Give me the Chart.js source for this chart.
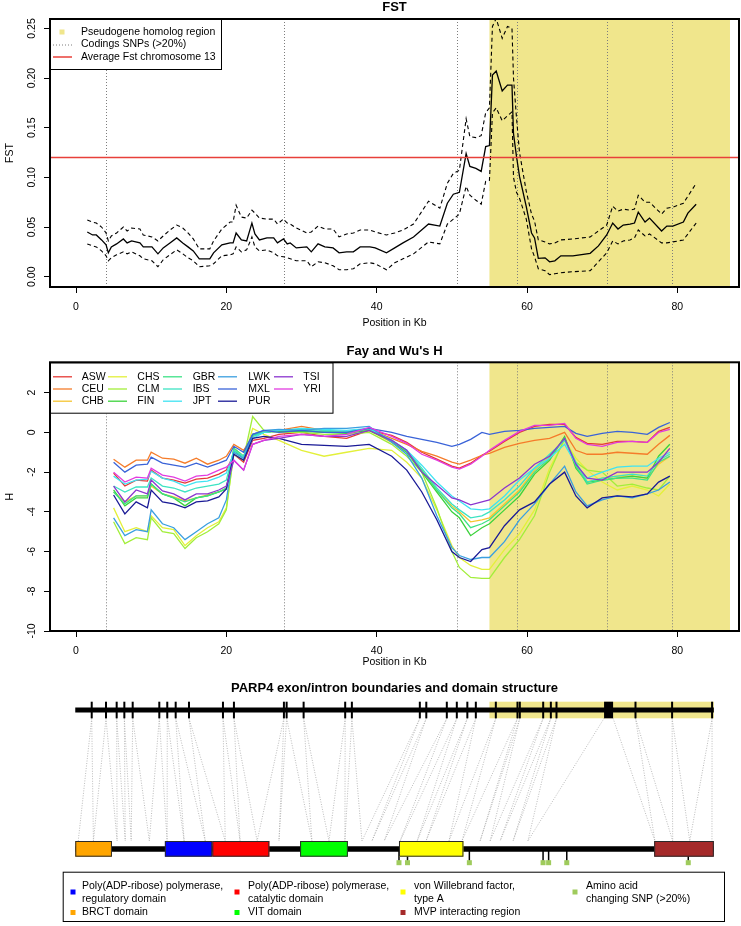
<!DOCTYPE html>
<html>
<head>
<meta charset="utf-8">
<script src="https://cdn.jsdelivr.net/npm/chart.js@4.4.1/dist/chart.umd.min.js"></script>
<style>
  html, body { margin: 0; padding: 0; background: #fff; }
  #wrap { position: relative; width: 741px; height: 926px; }
  canvas { position: absolute; left: 0; }
</style>
</head>
<body>
<div id="wrap">
  <canvas id="fst" width="741" height="330" style="top:0px"></canvas>
  <canvas id="fayWu" width="741" height="340" style="top:330px"></canvas>
  <canvas id="parp4" width="741" height="256" style="top:670px"></canvas>
</div>
<script>
// ---- shared axis ----
const X_MIN = -3.46, X_MAX = 88.2;
const xTicks = [0, 20, 40, 60, 80];
const fstTicks = [0, 0.05, 0.10, 0.15, 0.20, 0.25];
const hTicks = [-10, -8, -6, -4, -2, 0, 2];

// pseudogene homolog region and coding SNP positions (Kb)
const pseudogeneRegion = [55, 87];
const codingSnpPos = [4.0, 27.7, 50.7, 58.7, 70.6, 79.3];
const fstChromAverage = 0.12;

// ---- FST ----
const fstPos = [1.5,2.2,2.7,3.4,4.0,4.3,4.7,5.4,6.3,6.8,7.4,8.5,8.95,10.1,10.9,11.6,12.5,13.4,14.2,14.9,
  15.6,16.4,17.8,18.3,19.4,20.5,20.9,21.3,22.0,22.7,23.4,23.8,24.4,25.4,26.3,26.8,27.6,28.1,28.5,29.3,
  30.7,31.3,32.2,33.1,34.2,35.0,36.0,36.9,37.8,39.1,39.8,41.3,42.4,43.5,44.9,46.9,48.4,49.4,50.2,51.0,
  51.9,52.4,53.2,53.9,54.5,55.0,55.4,55.9,56.7,57.4,58.0,58.2,58.6,59.0,59.9,60.6,61.0,61.5,62.4,63.0,
  63.7,64.5,66.1,68.4,69.5,70.6,71.4,72.1,72.8,73.7,74.3,74.8,75.7,76.3,77.9,78.6,79.4,80.8,81.4,82.5];
const fstMean = [0.045,0.042,0.042,0.037,0.032,0.024,0.030,0.033,0.038,0.034,0.036,0.034,0.030,0.030,0.023,
  0.029,0.034,0.039,0.034,0.030,0.026,0.018,0.018,0.024,0.032,0.034,0.034,0.044,0.037,0.036,
  0.054,0.043,0.037,0.039,0.039,0.034,0.038,0.033,0.034,0.029,0.030,0.025,0.033,0.030,0.029,
  0.024,0.025,0.025,0.030,0.030,0.029,0.024,0.029,0.034,0.040,0.053,0.051,0.074,0.083,0.085,
  0.124,0.111,0.109,0.106,0.131,0.132,0.203,0.207,0.187,0.193,0.193,0.144,0.121,0.101,0.0705,
  0.044,0.039,0.0185,0.019,0.015,0.016,0.021,0.021,0.0235,0.031,0.042,0.054,0.048,0.052,0.053,
  0.054,0.065,0.055,0.059,0.046,0.051,0.051,0.055,0.064,0.073];
const fstUpper = [0.057,0.055,0.054,0.050,0.044,0.036,0.041,0.044,0.050,0.046,0.049,0.048,0.042,0.040,0.036,
  0.041,0.047,0.052,0.049,0.044,0.038,0.028,0.028,0.036,0.048,0.055,0.055,0.072,0.060,0.059,
  0.067,0.064,0.059,0.058,0.058,0.053,0.058,0.054,0.053,0.049,0.044,0.045,0.051,0.048,0.048,
  0.040,0.043,0.044,0.047,0.047,0.045,0.042,0.044,0.047,0.053,0.076,0.069,0.094,0.104,0.107,
  0.159,0.141,0.140,0.142,0.165,0.170,0.252,0.260,0.240,0.252,0.250,0.200,0.160,0.125,0.086,
  0.063,0.056,0.037,0.035,0.033,0.034,0.037,0.038,0.040,0.046,0.052,0.071,0.066,0.068,0.067,
  0.068,0.082,0.075,0.075,0.063,0.069,0.070,0.074,0.081,0.094];
const fstLower = [0.033,0.031,0.030,0.026,0.021,0.016,0.019,0.022,0.025,0.023,0.025,0.021,0.018,0.016,0.010,
  0.017,0.022,0.027,0.023,0.019,0.016,0.010,0.011,0.013,0.021,0.022,0.023,0.030,0.025,0.027,
  0.040,0.030,0.026,0.027,0.024,0.021,0.020,0.019,0.018,0.016,0.016,0.010,0.015,0.014,0.011,
  0.007,0.007,0.008,0.013,0.014,0.013,0.007,0.014,0.018,0.023,0.035,0.033,0.053,0.058,0.063,
  0.091,0.082,0.077,0.073,0.096,0.097,0.165,0.170,0.157,0.162,0.166,0.100,0.085,0.079,0.058,
  0.028,0.020,0.008,0.006,0.002,0.003,0.004,0.005,0.006,0.015,0.024,0.036,0.033,0.036,0.037,
  0.039,0.047,0.041,0.043,0.034,0.034,0.035,0.037,0.043,0.054];

// ---- Fay and Wu's H ----
const populations = ['ASW','CEU','CHB','CHS','CLM','FIN','GBR','IBS','JPT','LWK','MXL','PUR','TSI','YRI'];
const popColors = ['#E53935','#F57C2A','#F5C431','#E3F03A','#A2EE3A','#3CD23C','#3DE286',
  '#3DE3C3','#3FE3F2','#3A9FE0','#3A63D8','#1A1A96','#8B35CF','#E23BE0'];
const hPos = [5,6.5,8,9.5,10,11.5,13,14.5,16,17.5,19,20,21,22.3,23.5,25,27,30,33,36,39,42,44,46,48,
  50,51,52.5,54,55,57,59,61,63,65,66.5,68,70,72,74,76,77.5,79];
const hASW = [-2.05,-2.7,-2.4,-2.45,-1.9,-2.3,-2.4,-2.55,-2.35,-2.3,-2.1,-1.9,-1.1,-1.5,-0.4,-0.3,-0.1,0.0,-0.2,-0.3,
  0.1,-0.15,-0.5,-1.0,-1.35,-1.7,-1.8,-1.55,-1.15,-0.95,-0.45,0.0,0.3,0.4,0.4,-0.25,-0.55,-0.6,-0.45,-0.45,-0.5,0.05,0.25];
const hCEU = [-1.35,-1.75,-1.4,-1.4,-1.0,-1.3,-1.35,-1.55,-1.3,-1.6,-1.4,-1.2,-0.6,-0.9,-0.2,0.0,0.1,0.3,0.1,0.0,
  0.15,-0.3,-0.6,-0.95,-1.2,-1.5,-1.6,-1.4,-1.15,-1.05,-0.75,-0.55,-0.4,-0.3,0.0,-0.9,-1.1,-1.1,-1.0,-1.05,-1.1,-0.6,-0.15];
const hCHB = [-3.0,-3.5,-3.2,-3.2,-2.7,-3.1,-3.25,-3.45,-3.3,-3.15,-3.0,-2.8,-0.8,-1.2,-0.1,0.05,0.1,0.1,0.0,0.0,
  0.1,-0.5,-1.0,-1.9,-2.9,-3.7,-4.0,-4.5,-4.4,-4.3,-3.6,-2.9,-1.9,-1.2,-0.3,-1.6,-2.5,-2.3,-2.2,-2.2,-2.3,-1.6,-1.2];
const hCHS = [-3.8,-5.0,-4.8,-5.0,-4.2,-4.8,-4.9,-5.7,-5.2,-4.8,-4.5,-3.8,-1.1,-1.4,0.2,-0.1,-0.4,-0.9,-1.2,-1.0,
  -0.8,-0.9,-1.5,-2.3,-3.9,-5.7,-6.3,-6.7,-6.9,-6.9,-5.9,-5.1,-3.9,-1.8,-0.4,-1.3,-1.9,-2.5,-2.9,-2.7,-2.9,-3.2,-2.6];
const hCLM = [-4.5,-5.6,-5.3,-5.4,-4.3,-5.0,-5.1,-5.85,-5.3,-5.0,-4.6,-3.9,-1.0,-1.3,0.8,0.1,0.0,0.0,-0.1,-0.1,
  0.0,-0.6,-1.2,-2.0,-3.8,-6.0,-6.8,-7.3,-7.35,-7.35,-6.3,-5.4,-4.2,-2.0,-0.3,-1.5,-1.9,-2.0,-2.7,-2.6,-2.8,-2.9,-2.2];
const hFIN = [-2.9,-3.7,-3.3,-3.3,-2.6,-3.1,-3.3,-3.7,-3.3,-3.2,-3.0,-2.85,-0.9,-1.3,-0.15,0.0,0.05,0.05,0.0,-0.05,
  0.1,-0.45,-1.0,-2.0,-3.0,-4.0,-4.3,-5.2,-4.8,-4.6,-3.9,-3.2,-2.1,-1.4,-0.2,-1.8,-2.5,-2.4,-2.3,-2.2,-2.3,-1.2,-0.6];
const hGBR = [-3.0,-3.6,-3.2,-3.2,-2.6,-3.1,-3.3,-3.5,-3.3,-3.2,-3.0,-2.8,-0.8,-1.2,-0.1,0.0,0.1,0.1,0.05,0.0,
  0.15,-0.4,-0.95,-1.9,-2.9,-3.8,-4.1,-4.8,-4.6,-4.4,-3.7,-3.0,-2.0,-1.3,-0.3,-1.7,-2.6,-2.4,-2.3,-2.3,-2.4,-1.5,-1.2];
const hIBS = [-2.7,-3.0,-2.75,-2.75,-2.3,-2.7,-2.8,-3.0,-2.8,-2.7,-2.6,-2.4,-0.9,-1.2,-0.2,0.0,0.1,0.15,0.1,0.05,
  0.2,-0.4,-0.9,-1.8,-2.8,-3.6,-3.9,-4.3,-4.2,-4.0,-3.4,-2.7,-1.8,-1.1,-0.4,-1.5,-2.5,-2.3,-2.2,-2.1,-2.2,-1.4,-1.1];
const hJPT = [-2.2,-2.6,-2.4,-2.35,-1.95,-2.3,-2.45,-2.7,-2.5,-2.45,-2.25,-2.05,-1.0,-1.3,-0.3,0.0,0.1,0.2,0.15,0.1,
  0.2,-0.4,-0.9,-1.65,-2.5,-3.2,-3.45,-3.85,-3.9,-3.85,-3.2,-2.4,-1.8,-1.3,-0.6,-1.6,-2.3,-2.0,-1.75,-1.7,-1.7,-1.3,-1.0];
const hLWK = [-4.3,-5.2,-4.9,-5.0,-3.9,-4.6,-4.8,-5.4,-5.0,-4.6,-4.3,-3.4,-1.0,-1.3,-0.1,0.1,0.15,0.1,0.2,0.2,
  0.3,-0.5,-1.1,-2.3,-4.2,-5.8,-6.2,-6.4,-6.3,-6.3,-5.5,-4.4,-3.6,-2.6,-1.7,-3.0,-3.7,-3.4,-3.2,-3.3,-3.1,-2.9,-2.5];
const hMXL = [-1.5,-2.0,-1.65,-1.6,-1.25,-1.55,-1.65,-1.75,-1.55,-1.75,-1.55,-1.4,-0.7,-1.0,-0.1,0.1,0.0,0.1,0.0,0.0,
  0.2,0.0,-0.2,-0.35,-0.5,-0.7,-0.6,-0.35,0.0,-0.1,0.05,0.1,0.2,0.25,0.3,-0.05,-0.2,-0.05,0.05,0.0,-0.1,0.25,0.5];
const hPUR = [-3.15,-4.1,-3.5,-3.8,-2.9,-3.5,-3.6,-3.8,-3.5,-3.45,-3.25,-2.85,-1.1,-1.4,-0.3,-0.2,-0.3,-0.6,-0.65,-0.7,
  -0.6,-1.2,-1.9,-3.0,-4.4,-6.0,-6.3,-6.5,-5.9,-5.8,-4.7,-3.9,-3.5,-2.6,-2.0,-3.2,-3.8,-3.3,-3.2,-3.25,-3.1,-2.5,-2.2];
const hTSI = [-2.7,-3.5,-2.9,-3.1,-2.4,-2.95,-3.1,-3.4,-3.1,-3.1,-2.9,-2.7,-1.4,-1.9,-0.6,-0.4,-0.3,-0.1,-0.2,-0.2,
  0.1,-0.4,-0.9,-2.0,-2.65,-3.3,-3.4,-3.65,-3.5,-3.4,-2.8,-2.3,-1.6,-1.2,-0.3,-1.6,-2.3,-2.4,-2.0,-2.0,-2.0,-1.5,-0.8];
const hYRI = [-2.0,-2.5,-2.25,-2.3,-1.8,-2.15,-2.25,-2.45,-2.2,-2.15,-1.9,-1.75,-1.4,-1.9,-0.6,-0.4,-0.2,-0.1,-0.2,-0.1,
  0.25,-0.2,-0.55,-1.1,-1.4,-1.75,-1.85,-1.6,-1.2,-0.9,-0.4,0.05,0.35,0.35,0.45,-0.3,-0.6,-0.7,-0.5,-0.45,-0.5,0.0,0.15];
const hSeries = [hASW,hCEU,hCHB,hCHS,hCLM,hFIN,hGBR,hIBS,hJPT,hLWK,hMXL,hPUR,hTSI,hYRI];

// ---- PARP4 gene / protein ----
const geneSpan = [-0.1, 84.85];           // Kb
const proteinLength = 1724;               // aa
const exonStart = [2.09,3.99,5.41,6.43,7.54,11.08,12.14,13.26,15.03,19.55,21.01,27.66,28.02,30.28,35.81,36.70,
  45.74,46.6,49.33,50.66,52.06,53.19,55.85,58.73,59.04,62.15,63.17,63.92,70.25,74.43,79.30,84.62];
const exonEnd = [2.09,3.99,5.41,6.43,7.54,11.08,12.14,13.26,15.03,19.55,21.01,27.66,28.02,30.28,35.81,36.70,
  45.74,46.6,49.33,50.66,52.06,53.19,55.85,58.73,59.04,62.15,63.17,63.92,71.45,74.43,79.30,84.62];
const proteinBoundaryAA = [8,49,113,135,151,200,248,294,351,405,445,491,550,639,685,728,774,801,834,877,923,
  947,1009,1044,1093,1120,1147,1182,1222,1565,1613,1659,1719];
const domainLabels = ['BRCT domain','Poly(ADP-ribose) polymerase,\nregulatory domain','Poly(ADP-ribose) polymerase,\ncatalytic domain',
  'VIT domain','von Willebrand factor,\ntype A','MVP interacting region'];
const domainStartAA = [0, 242, 370, 607, 874, 1563];
const domainEndAA = [99, 370, 524, 736, 1048, 1724];
const domainColors = ['#FFA500','#0000FF','#FF0000','#00FF00','#FFFF00','#A52A2A'];
const snpAA = [874, 897, 1064, 1263, 1278, 1327, 1655];
const snpLabel = 'Amino acid\nchanging SNP (>20%)';
const snpColor = '#9FCB5C';

// ---- style ----
const FONT = '"Liberation Sans", Arial, Helvetica, sans-serif';
const KHAKI = '#F0E68C';
const DOT_GREY = '#7d7d7d';
const RED = '#E8403A';

Chart.defaults.font.family = FONT;
Chart.defaults.font.size = 10.5;
Chart.defaults.color = '#000';

const xy = (xs, ys) => xs.map((x, i) => ({ x, y: ys[i] }));

function xScale(height, tickPad, titlePad) {
  return {
    type: 'linear', min: X_MIN, max: X_MAX,
    afterBuildTicks: s => { s.ticks = xTicks.map(v => ({ value: v })); },
    afterFit: s => { s.height = height; },
    grid: { drawOnChartArea: false, tickLength: 6, color: '#000' },
    border: { display: false },
    ticks: { padding: tickPad, autoSkip: false, maxRotation: 0 },
    title: { display: true, text: 'Position in Kb', padding: { top: 0, bottom: titlePad } }
  };
}

function yScale(min, max, ticks, label) {
  return {
    type: 'linear', min, max,
    afterBuildTicks: s => { s.ticks = ticks.map(v => ({ value: v })); },
    afterFit: s => { s.width = 50; },
    grid: { drawOnChartArea: false, tickLength: 6, color: '#000' },
    border: { display: false },
    ticks: { display: false },
    title: { display: true, text: label, padding: { top: 4.2, bottom: 0 } }
  };
}

function panelDecor(cfg) {
  return {
    id: 'panelDecor',
    beforeDatasetsDraw(chart) {
      const { ctx, chartArea: a, scales: { x } } = chart;
      ctx.save();
      ctx.beginPath();
      ctx.rect(a.left, a.top, a.right - a.left, a.bottom - a.top);
      ctx.clip();
      const x0 = x.getPixelForValue(pseudogeneRegion[0]);
      const x1 = x.getPixelForValue(pseudogeneRegion[1]);
      ctx.fillStyle = KHAKI;
      ctx.fillRect(x0, a.top, x1 - x0, a.bottom - a.top);
      ctx.strokeStyle = DOT_GREY;
      ctx.lineWidth = 1;
      ctx.setLineDash([1, 2]);
      codingSnpPos.forEach(p => {
        const px = Math.round(x.getPixelForValue(p)) + 0.5;
        ctx.beginPath();
        ctx.moveTo(px, a.top);
        ctx.lineTo(px, a.bottom);
        ctx.stroke();
      });
      ctx.restore();
    },
    afterDraw(chart) {
      const { ctx, chartArea: a, scales: { y } } = chart;
      ctx.save();
      // rotated y tick labels
      ctx.font = `10.5px ${FONT}`;
      ctx.fillStyle = '#000';
      ctx.textAlign = 'center';
      ctx.textBaseline = 'middle';
      cfg.yTicks.forEach(v => {
        ctx.save();
        ctx.translate(31.7, y.getPixelForValue(v));
        ctx.rotate(-Math.PI / 2);
        ctx.fillText(cfg.yFormat(v), 0, 0);
        ctx.restore();
      });
      ctx.font = `bold 13px ${FONT}`;
      ctx.fillText(cfg.title, (a.left + a.right) / 2, cfg.titleY);
      cfg.legend(ctx);
      ctx.setLineDash([]);
      ctx.lineWidth = 2;
      ctx.strokeStyle = '#000';
      ctx.strokeRect(a.left, a.top, a.right - a.left, a.bottom - a.top);
      ctx.restore();
    }
  };
}

function legendBox(ctx, L, T, R, B) {
  ctx.fillStyle = '#fff';
  ctx.fillRect(L, T, R - L, B - T);
  ctx.lineWidth = 1;
  ctx.strokeStyle = '#000';
  ctx.strokeRect(L + 0.5, T + 0.5, R - L - 1, B - T - 1);
}

function seg(ctx, x0, y0, x1, y1) {
  ctx.beginPath();
  ctx.moveTo(x0, y0);
  ctx.lineTo(x1, y1);
  ctx.stroke();
}

function fstLegend(ctx) {
  legendBox(ctx, 50, 19, 222, 70);
  const rows = [32, 44.5, 57];
  ctx.fillStyle = KHAKI;
  ctx.fillRect(59.5, rows[0] - 2.5, 5, 5);
  ctx.strokeStyle = DOT_GREY;
  ctx.setLineDash([1, 2]);
  seg(ctx, 53, rows[1] + 0.5, 72, rows[1] + 0.5);
  ctx.setLineDash([]);
  ctx.strokeStyle = RED;
  ctx.lineWidth = 1.5;
  seg(ctx, 53, rows[2], 72, rows[2]);
  ctx.fillStyle = '#000';
  ctx.font = `10.5px ${FONT}`;
  ctx.textAlign = 'left';
  ctx.textBaseline = 'middle';
  ['Pseudogene homolog region', 'Codings SNPs (>20%)', 'Average Fst chromosome 13']
    .forEach((t, i) => ctx.fillText(t, 81, rows[i]));
}

function hLegend(ctx) {
  // chart B canvas is offset by 330px
  legendBox(ctx, 50, 32.3, 333.5, 83.7);
  const rows = [46.8, 59, 71.2];
  const lineX = [53, 108, 163, 218, 274];
  const textX = [81.7, 137.3, 192.7, 248.3, 303.3];
  ctx.font = `10.5px ${FONT}`;
  ctx.textAlign = 'left';
  ctx.textBaseline = 'middle';
  populations.forEach((p, i) => {
    const c = Math.floor(i / 3), r = i % 3;
    ctx.strokeStyle = popColors[i];
    ctx.lineWidth = 1.3;
    seg(ctx, lineX[c], rows[r], lineX[c] + 19, rows[r]);
    ctx.fillStyle = '#000';
    ctx.fillText(p, textX[c], rows[r]);
  });
}

// ---- chart A: FST ----
new Chart(document.getElementById('fst'), {
  type: 'line',
  data: {
    datasets: [
      { data: [{ x: X_MIN, y: fstChromAverage }, { x: X_MAX, y: fstChromAverage }], borderColor: RED, borderWidth: 1.6, order: 0 },
      { data: xy(fstPos, fstMean), borderColor: '#000', borderWidth: 1.3, order: 1 },
      { data: xy(fstPos, fstUpper), borderColor: '#000', borderWidth: 1.1, borderDash: [4, 3], order: 2 },
      { data: xy(fstPos, fstLower), borderColor: '#000', borderWidth: 1.1, borderDash: [4, 3], order: 3 }
    ]
  },
  options: {
    responsive: false, animation: false, devicePixelRatio: 1,
    layout: { padding: { top: 19, right: 2, left: 0, bottom: 0 } },
    plugins: { legend: { display: false }, tooltip: { enabled: false } },
    elements: { point: { radius: 0 }, line: { tension: 0, fill: false } },
    scales: {
      x: xScale(43, 7.4, 0.4),
      y: yScale(-0.0104, 0.2595, fstTicks, 'FST')
    }
  },
  plugins: [panelDecor({ title: 'FST', titleY: 7.5, yTicks: fstTicks, yFormat: v => v.toFixed(2), legend: fstLegend })]
});

// ---- chart B: Fay and Wu's H ----
new Chart(document.getElementById('fayWu'), {
  type: 'line',
  data: {
    datasets: populations.map((p, i) => ({
      label: p, data: xy(hPos, hSeries[i]), borderColor: popColors[i], borderWidth: 1.3,
      order: populations.length - i
    }))
  },
  options: {
    responsive: false, animation: false, devicePixelRatio: 1,
    layout: { padding: { top: 32.3, right: 2, left: 0, bottom: 0 } },
    plugins: { legend: { display: false }, tooltip: { enabled: false } },
    elements: { point: { radius: 0 }, line: { tension: 0, fill: false } },
    scales: {
      x: xScale(39, 7.4, 2.0),
      y: yScale(-10, 3.53, hTicks, 'H')
    }
  },
  plugins: [panelDecor({ title: "Fay and Wu's H", titleY: 21.7, yTicks: hTicks, yFormat: v => String(v), legend: hLegend })]
});

// ---- chart C: PARP4 exon/intron boundaries and domain structure ----
// y scale runs in page pixels (670..926) so track heights read as layout constants
const GENE_Y = 710, EXON_TOP = 701.7, EXON_BOTTOM = 718.3;
const PROT_TOP = 841, PROT_BOTTOM = 856.7, PROT_Y = 849, SNP_Y = 862.7;

const aaToKb = aa => geneSpan[0] + aa / proteinLength * (geneSpan[1] - geneSpan[0]);

const geneTrack = {
  id: 'geneTrack',
  afterDraw(chart) {
    const { ctx, scales: { x, y } } = chart;
    const X = v => x.getPixelForValue(v);
    const Y = v => y.getPixelForValue(v);
    ctx.save();
    ctx.fillStyle = '#000';
    ctx.font = `bold 13px ${FONT}`;
    ctx.textAlign = 'center';
    ctx.textBaseline = 'middle';
    ctx.fillText('PARP4 exon/intron boundaries and domain structure', (X(X_MIN) + X(X_MAX)) / 2, Y(688));

    // pseudogene band on the gene
    ctx.fillStyle = KHAKI;
    const b0 = X(pseudogeneRegion[0]), b1 = X(Math.min(pseudogeneRegion[1], geneSpan[1]));
    ctx.fillRect(b0, Y(EXON_TOP), b1 - b0, Y(EXON_BOTTOM) - Y(EXON_TOP));

    // connectors exon -> protein
    ctx.strokeStyle = '#a9a9a9';
    ctx.lineWidth = 0.8;
    ctx.setLineDash([1, 1.5]);
    exonStart.forEach((s, k) => {
      seg(ctx, X(s), Y(EXON_BOTTOM), X(aaToKb(proteinBoundaryAA[k])), Y(PROT_TOP));
      seg(ctx, X(exonEnd[k]), Y(EXON_BOTTOM), X(aaToKb(proteinBoundaryAA[k + 1])), Y(PROT_TOP));
    });
    ctx.setLineDash([]);

    // gene backbone and exons
    ctx.strokeStyle = '#000';
    ctx.lineWidth = 5;
    seg(ctx, X(geneSpan[0]), Y(GENE_Y), X(geneSpan[1]), Y(GENE_Y));
    ctx.fillStyle = '#000';
    exonStart.forEach((s, k) => {
      const w = Math.max(2, X(exonEnd[k]) - X(s));
      ctx.fillRect(X(s) - (w === 2 ? 1 : 0), Y(EXON_TOP), w, Y(EXON_BOTTOM) - Y(EXON_TOP));
    });

    // SNP ticks + markers
    ctx.strokeStyle = '#000';
    ctx.lineWidth = 1.5;
    snpAA.forEach(aa => seg(ctx, X(aaToKb(aa)), Y(PROT_Y), X(aaToKb(aa)), Y(SNP_Y - 2)));
    ctx.fillStyle = snpColor;
    snpAA.forEach(aa => ctx.fillRect(X(aaToKb(aa)) - 2.5, Y(SNP_Y) - 2.5, 5, 5));

    // protein backbone and domains
    ctx.lineWidth = 5.5;
    seg(ctx, X(aaToKb(0)), Y(PROT_Y), X(aaToKb(proteinLength)), Y(PROT_Y));
    ctx.lineWidth = 1;
    ctx.strokeStyle = '#2a2a2a';
    domainStartAA.forEach((s, i) => {
      const l = X(aaToKb(s)), r = X(aaToKb(domainEndAA[i]));
      ctx.fillStyle = domainColors[i];
      ctx.fillRect(l, Y(PROT_TOP), r - l, Y(PROT_BOTTOM) - Y(PROT_TOP));
      ctx.strokeRect(l + 0.5, Y(PROT_TOP) + 0.5, r - l - 1, Y(PROT_BOTTOM) - Y(PROT_TOP) - 1);
    });

    // legend
    legendBox(ctx, 62.7, Y(871.7), 725, Y(922));
    const markX = [73, 237, 403, 575], textX = [82, 248, 414, 586];
    const entries = [
      [1, 0, 0], [0, 0, 1], [2, 1, 0], [3, 1, 1], [4, 2, 0], [5, 2, 1], [-1, 3, 0]
    ];
    ctx.font = `10.5px ${FONT}`;
    ctx.textAlign = 'left';
    entries.forEach(([d, col, row]) => {
      const label = d < 0 ? snpLabel : domainLabels[d];
      const lines = label.split('\n');
      const my = row === 0 ? 892 : 912.5;
      ctx.fillStyle = d < 0 ? snpColor : domainColors[d];
      ctx.fillRect(markX[col] - 2.5, Y(my) - 2.5, 5, 5);
      ctx.fillStyle = '#000';
      lines.forEach((t, j) => {
        const ty = row === 0 ? 886.5 + j * 12.5 : 912.5;
        ctx.fillText(t, textX[col], Y(ty));
      });
    });
    ctx.restore();
  }
};

new Chart(document.getElementById('parp4'), {
  type: 'line',
  data: { datasets: [] },
  options: {
    responsive: false, animation: false, devicePixelRatio: 1,
    layout: { padding: { top: 0, right: 2, left: 50, bottom: 0 } },
    plugins: { legend: { display: false }, tooltip: { enabled: false } },
    scales: {
      x: { type: 'linear', min: X_MIN, max: X_MAX, display: false },
      y: { type: 'linear', min: 670, max: 926, reverse: true, display: false }
    }
  },
  plugins: [geneTrack]
});
</script>
</body>
</html>
